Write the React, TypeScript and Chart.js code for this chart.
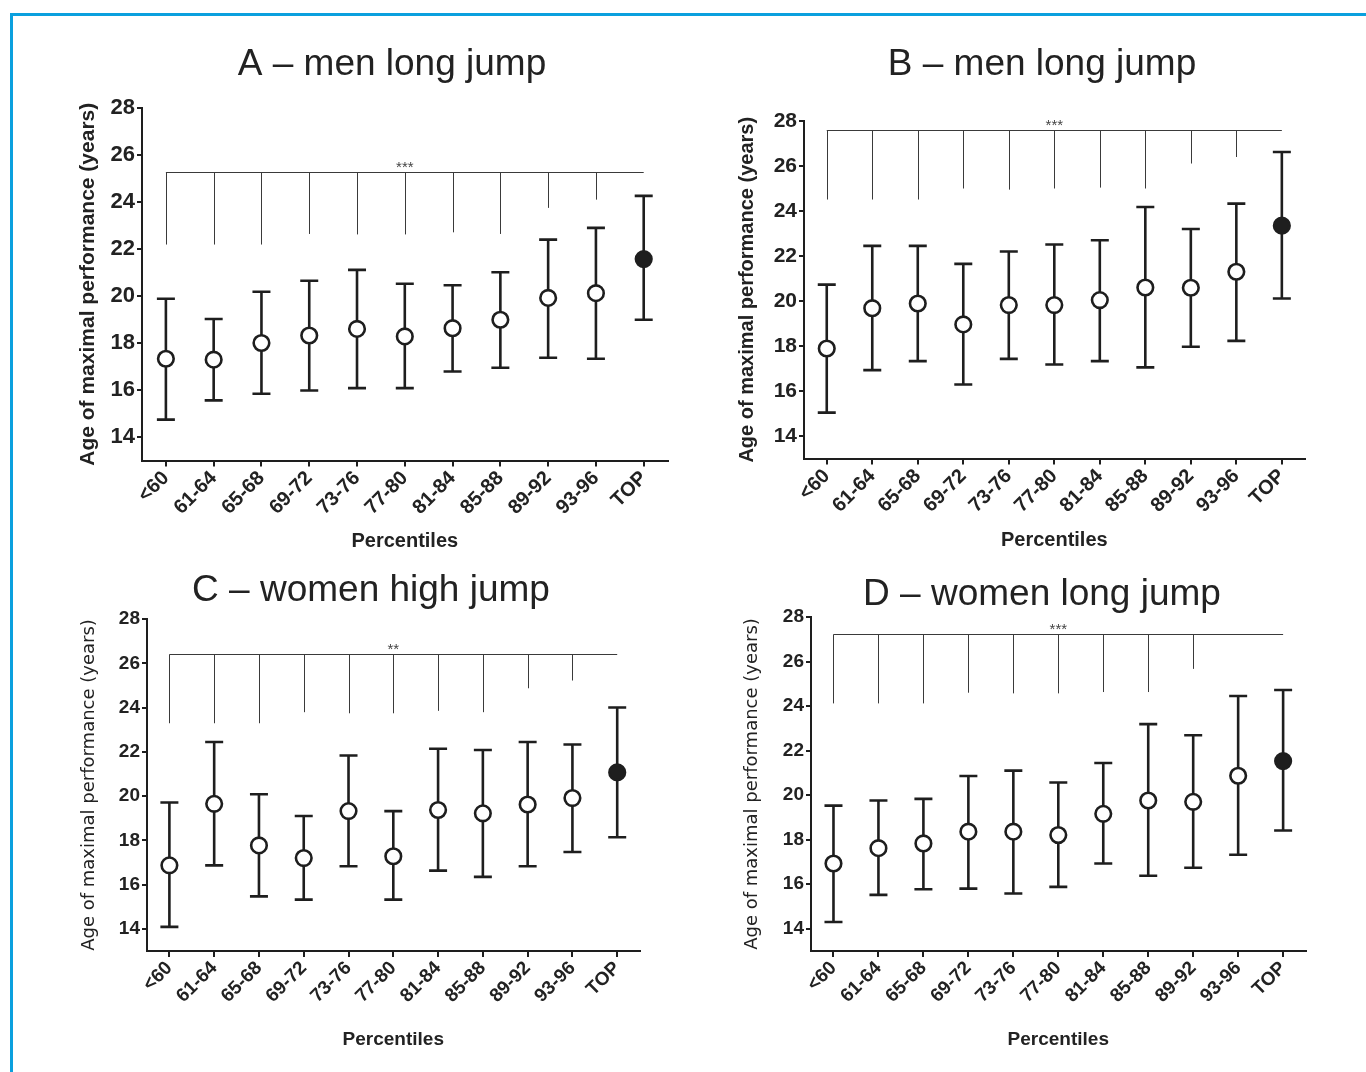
import React, { useEffect, useRef } from "react";
import { Chart, registerables } from "chart.js";

Chart.register(...registerables);

// ---------- data ----------
const categories = ["<60", "61-64", "65-68", "69-72", "73-76", "77-80", "81-84", "85-88", "89-92", "93-96", "TOP"];
const yTicks = [14, 16, 18, 20, 22, 24, 26, 28];
const yMin = 13;
const yMax = 28;

// A – men long jump
const meanA = [17.33, 17.29, 18.0, 18.32, 18.6, 18.28, 18.63, 18.99, 19.92, 20.12, 21.57];
const upperA = [19.88, 19.02, 20.18, 20.65, 21.11, 20.52, 20.46, 21.01, 22.4, 22.9, 24.26];
const lowerA = [14.74, 15.56, 15.84, 15.98, 16.08, 16.08, 16.79, 16.95, 17.37, 17.33, 18.99];
const bracketA = 25.28;
const dropsA = [22.19, 22.19, 22.19, 22.64, 22.62, 22.62, 22.71, 22.64, 23.75, 24.1, null];
const starsA = "***";

// B – men long jump
const meanB = [17.89, 19.68, 19.89, 18.96, 19.82, 19.82, 20.04, 20.6, 20.59, 21.3, 23.35];
const upperB = [20.73, 22.45, 22.45, 21.65, 22.2, 22.51, 22.7, 24.18, 23.2, 24.33, 26.62];
const lowerB = [15.04, 16.93, 17.33, 16.29, 17.43, 17.18, 17.33, 17.05, 17.97, 18.23, 20.11];
const bracketB = 27.59;
const dropsB = [24.51, 24.51, 24.51, 25.0, 24.95, 25.0, 25.04, 25.0, 26.11, 26.4, null];
const starsB = "***";

// C – women high jump
const meanC = [16.87, 19.65, 17.77, 17.2, 19.32, 17.28, 19.37, 19.22, 19.62, 19.91, 21.07];
const upperC = [19.71, 22.44, 20.08, 19.1, 21.83, 19.32, 22.14, 22.08, 22.44, 22.33, 24.0];
const lowerC = [14.09, 16.87, 15.47, 15.32, 16.83, 15.32, 16.63, 16.35, 16.83, 17.47, 18.14];
const bracketC = 26.42;
const dropsC = [23.29, 23.29, 23.29, 23.79, 23.74, 23.74, 23.85, 23.79, 24.87, 25.22, null];
const starsC = "**";

// D – women long jump
const meanD = [16.93, 17.62, 17.83, 18.36, 18.36, 18.21, 19.16, 19.76, 19.7, 20.87, 21.53];
const upperD = [19.53, 19.76, 19.83, 20.86, 21.1, 20.57, 21.44, 23.19, 22.69, 24.45, 24.72];
const lowerD = [14.3, 15.52, 15.77, 15.8, 15.58, 15.88, 16.93, 16.38, 16.74, 17.32, 18.41];
const bracketD = 27.23;
const dropsD = [24.12, 24.12, 24.12, 24.6, 24.57, 24.57, 24.63, 24.63, 25.67, null, null];
const starsD = "***";

const titles = ["A \u2013 men long jump", "B \u2013 men long jump", "C \u2013 women high jump", "D \u2013 women long jump"];
const yTitle = "Age of maximal performance (years)";
const xTitle = "Percentiles";

// ---------- layout / style (page pixels) ----------
type Geo = {
  plotL: number; plotR: number; plotT: number; plotB: number;
  titleX: number; titleBase: number; yTitleX: number; xTitleY: number;
  yTitleFont: { family: string; size: number; weight: string };
  yTickSize: number; xTickSize: number; xTitleSize: number;
};
const SANS = "'Liberation Sans', Arial, Helvetica, sans-serif";
const geos: Geo[] = [
  { plotL: 142, plotR: 672, plotT: 108, plotB: 460.5, titleX: 392, titleBase: 75, yTitleX: 88, xTitleY: 541,
    yTitleFont: { family: SANS, size: 21, weight: "bold" }, yTickSize: 22, xTickSize: 20, xTitleSize: 20 },
  { plotL: 804, plotR: 1309, plotT: 121, plotB: 458.5, titleX: 1042, titleBase: 75, yTitleX: 747, xTitleY: 540,
    yTitleFont: { family: SANS, size: 20, weight: "bold" }, yTickSize: 21, xTickSize: 20, xTitleSize: 20 },
  { plotL: 147, plotR: 644, plotT: 619, plotB: 951, titleX: 371, titleBase: 601, yTitleX: 89, xTitleY: 1040,
    yTitleFont: { family: "'DejaVu Sans', sans-serif", size: 18, weight: "normal" }, yTickSize: 19, xTickSize: 19, xTitleSize: 19 },
  { plotL: 811, plotR: 1310, plotT: 617, plotB: 951, titleX: 1042, titleBase: 605, yTitleX: 752, xTitleY: 1040,
    yTitleFont: { family: "'DejaVu Sans', sans-serif", size: 18, weight: "normal" }, yTickSize: 19, xTickSize: 19, xTitleSize: 19 },
];

const INK = "#1e1e1e";

type PanelData = {
  mean: number[]; upper: number[]; lower: number[];
  bracket: number; drops: (number | null)[]; stars: string; title: string;
};

const panels: PanelData[] = [
  { mean: meanA, upper: upperA, lower: lowerA, bracket: bracketA, drops: dropsA, stars: starsA, title: titles[0] },
  { mean: meanB, upper: upperB, lower: lowerB, bracket: bracketB, drops: dropsB, stars: starsB, title: titles[1] },
  { mean: meanC, upper: upperC, lower: lowerC, bracket: bracketC, drops: dropsC, stars: starsC, title: titles[2] },
  { mean: meanD, upper: upperD, lower: lowerD, bracket: bracketD, drops: dropsD, stars: starsD, title: titles[3] },
];

function Panel({ data, geo }: { data: PanelData; geo: Geo }) {
  const ref = useRef<HTMLCanvasElement | null>(null);

  const left = geo.yTitleX - 30;
  const top = geo.titleBase - 50;
  const right = geo.plotR + 6;
  const bottom = geo.xTitleY + 18;
  const width = right - left;
  const height = bottom - top;

  useEffect(() => {
    if (!ref.current) return;
    const yAxisWidth = geo.plotL - left;
    const padTop = geo.plotT - top;
    const padRight = right - geo.plotR;
    const xAxisHeight = bottom - geo.plotB;
    const yLine = geo.yTitleFont.size * 1.2;
    const xLine = geo.xTitleSize * 1.2;

    const errorBars = {
      id: "errorBars",
      beforeDatasetsDraw(chart: any) {
        const { ctx, scales } = chart;
        const x = scales.x, y = scales.y;
        ctx.save();
        ctx.strokeStyle = INK;
        ctx.lineWidth = 2.6;
        ctx.lineCap = "butt";
        data.mean.forEach((_, i) => {
          const px = x.getPixelForValue(i);
          const yl = y.getPixelForValue(data.lower[i]);
          const yu = y.getPixelForValue(data.upper[i]);
          ctx.beginPath();
          ctx.moveTo(px, yl);
          ctx.lineTo(px, yu);
          ctx.moveTo(px - 9, yl);
          ctx.lineTo(px + 9, yl);
          ctx.moveTo(px - 9, yu);
          ctx.lineTo(px + 9, yu);
          ctx.stroke();
        });
        ctx.restore();
      },
    };

    const bracketPlugin = {
      id: "bracket",
      beforeDatasetsDraw(chart: any) {
        const { ctx, scales } = chart;
        const x = scales.x, y = scales.y;
        const yb = Math.round(y.getPixelForValue(data.bracket)) + 0.5;
        const x0 = x.getPixelForValue(0);
        const x1 = x.getPixelForValue(categories.length - 1);
        ctx.save();
        ctx.strokeStyle = "#3a3a3a";
        ctx.lineWidth = 1;
        ctx.beginPath();
        ctx.moveTo(x0, yb);
        ctx.lineTo(x1, yb);
        data.drops.forEach((d, i) => {
          if (d === null) return;
          const px = Math.round(x.getPixelForValue(i)) + 0.5;
          ctx.moveTo(px, yb);
          ctx.lineTo(px, y.getPixelForValue(d));
        });
        ctx.stroke();
        ctx.fillStyle = "#444";
        ctx.font = `15px ${SANS}`;
        ctx.textAlign = "center";
        ctx.textBaseline = "alphabetic";
        ctx.fillText(data.stars, (x0 + x1) / 2, yb - 1);
        ctx.restore();
      },
    };

    const panelTitle = {
      id: "panelTitle",
      afterDraw(chart: any) {
        const { ctx } = chart;
        ctx.save();
        ctx.fillStyle = "#222";
        ctx.font = `37px ${SANS}`;
        ctx.textAlign = "center";
        ctx.textBaseline = "alphabetic";
        ctx.fillText(data.title, geo.titleX - left, geo.titleBase - top);
        ctx.restore();
      },
    };

    const chart = new Chart(ref.current, {
      type: "line",
      data: {
        labels: categories,
        datasets: [
          {
            data: data.mean,
            showLine: false,
            pointRadius: 7.8,
            pointHoverRadius: 7.8,
            pointBorderWidth: 2.6,
            pointBorderColor: INK,
            pointBackgroundColor: data.mean.map((_, i) => (i === categories.length - 1 ? INK : "#ffffff")),
          },
        ],
      },
      options: {
        responsive: false,
        animation: false,
        events: [],
        layout: { padding: { left: 0, right: padRight, top: padTop, bottom: 0 } },
        plugins: { legend: { display: false }, tooltip: { enabled: false }, title: { display: false } },
        scales: {
          x: {
            type: "category",
            offset: true,
            grid: { display: true, drawOnChartArea: false, drawTicks: true, tickLength: 6, offset: false, color: INK, lineWidth: 2 },
            border: { display: true, color: INK, width: 2 },
            ticks: {
              autoSkip: false,
              minRotation: 45,
              maxRotation: 45,
              color: "#222",
              padding: 0,
              font: { family: SANS, size: geo.xTickSize, weight: "bold" },
            },
            title: {
              display: true,
              text: xTitle,
              color: "#222",
              font: { family: SANS, size: geo.xTitleSize, weight: "bold" },
              padding: { top: 0, bottom: (bottom - geo.xTitleY) - xLine / 2 },
            },
            afterFit: (s: any) => {
              s.height = xAxisHeight;
            },
          },
          y: {
            type: "linear",
            min: yMin,
            max: yMax,
            afterBuildTicks: (s: any) => {
              s.ticks = yTicks.map((v) => ({ value: v }));
            },
            grid: { display: true, drawOnChartArea: false, drawTicks: true, tickLength: 5, color: INK, lineWidth: 2 },
            border: { display: true, color: INK, width: 2 },
            ticks: {
              color: "#222",
              padding: 2,
              font: { family: SANS, size: geo.yTickSize, weight: "bold" },
            },
            title: {
              display: true,
              text: yTitle,
              color: "#222",
              font: geo.yTitleFont as any,
              padding: { top: (geo.yTitleX - left) - yLine / 2, bottom: 0 },
            },
            afterFit: (s: any) => {
              s.width = yAxisWidth;
            },
          },
        },
      },
      plugins: [errorBars, bracketPlugin, panelTitle],
    } as any);

    return () => chart.destroy();
  }, []);

  return (
    <canvas
      ref={ref}
      width={width}
      height={height}
      style={{ position: "absolute", left, top, width, height }}
    />
  );
}

export default function App() {
  return (
    <div style={{ position: "absolute", left: 0, top: 0, width: 1366, height: 1072, background: "#fff", overflow: "hidden" }}>
      <div
        style={{
          position: "absolute",
          left: 10,
          top: 13,
          width: 1366,
          height: 1072,
          borderTop: "3px solid #0aa0de",
          borderLeft: "3px solid #0aa0de",
        }}
      />
      {panels.map((p, i) => (
        <Panel key={i} data={p} geo={geos[i]} />
      ))}
    </div>
  );
}
